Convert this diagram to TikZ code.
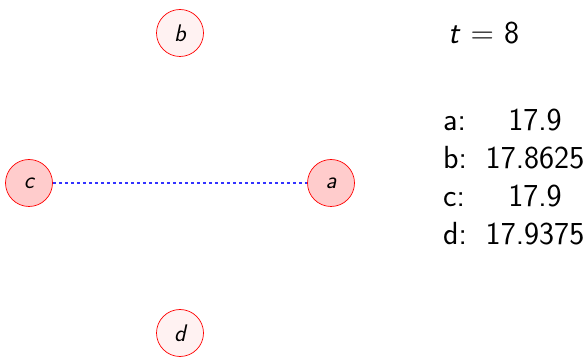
\documentclass[tikz,border=0pt]{standalone}
\usepackage{fontspec}
\usepackage{tikz}
\begin{document}
\begin{tikzpicture}[x=1pt,y=1pt,
  vtx/.style={circle,draw=red,line width=0.7pt,minimum size=47pt,inner sep=0pt,font=\fontsize{24}{26}\selectfont\sffamily\itshape},
  hot/.style={vtx,fill=red!20},
  cold/.style={vtx,fill=red!5},
  edge/.style={blue!80,line width=2.3pt,dash pattern=on 3.5pt off 2.5pt},
  big/.style={font=\fontsize{32}{35}\selectfont\sffamily,inner sep=0pt}]
\useasboundingbox (0,0) rectangle (588,358);
\node[cold] (b) at (180,325) {b};
\node[hot] (c) at (29,175) {c};
\node[hot] (a) at (331,175) {a};
\node[cold] (d) at (180,25) {d};
\draw[edge] (c) -- (a);
\node[big,anchor=base west] (t) at (448,314) {\textit{t} = 8};
\node[big,anchor=base west] (la) at (443,227) {a:};
\node[big,anchor=base west] (lb) at (443,189) {b:};
\node[big,anchor=base west] (lc) at (443,151) {c:};
\node[big,anchor=base west] (ld) at (443,113) {d:};
\node[big,anchor=base] (na) at (535,227) {17.9};
\node[big,anchor=base] (nb) at (535,189) {17.8625};
\node[big,anchor=base] (nc) at (535,151) {17.9};
\node[big,anchor=base] (nd) at (535,113) {17.9375};
\end{tikzpicture}
\end{document}
